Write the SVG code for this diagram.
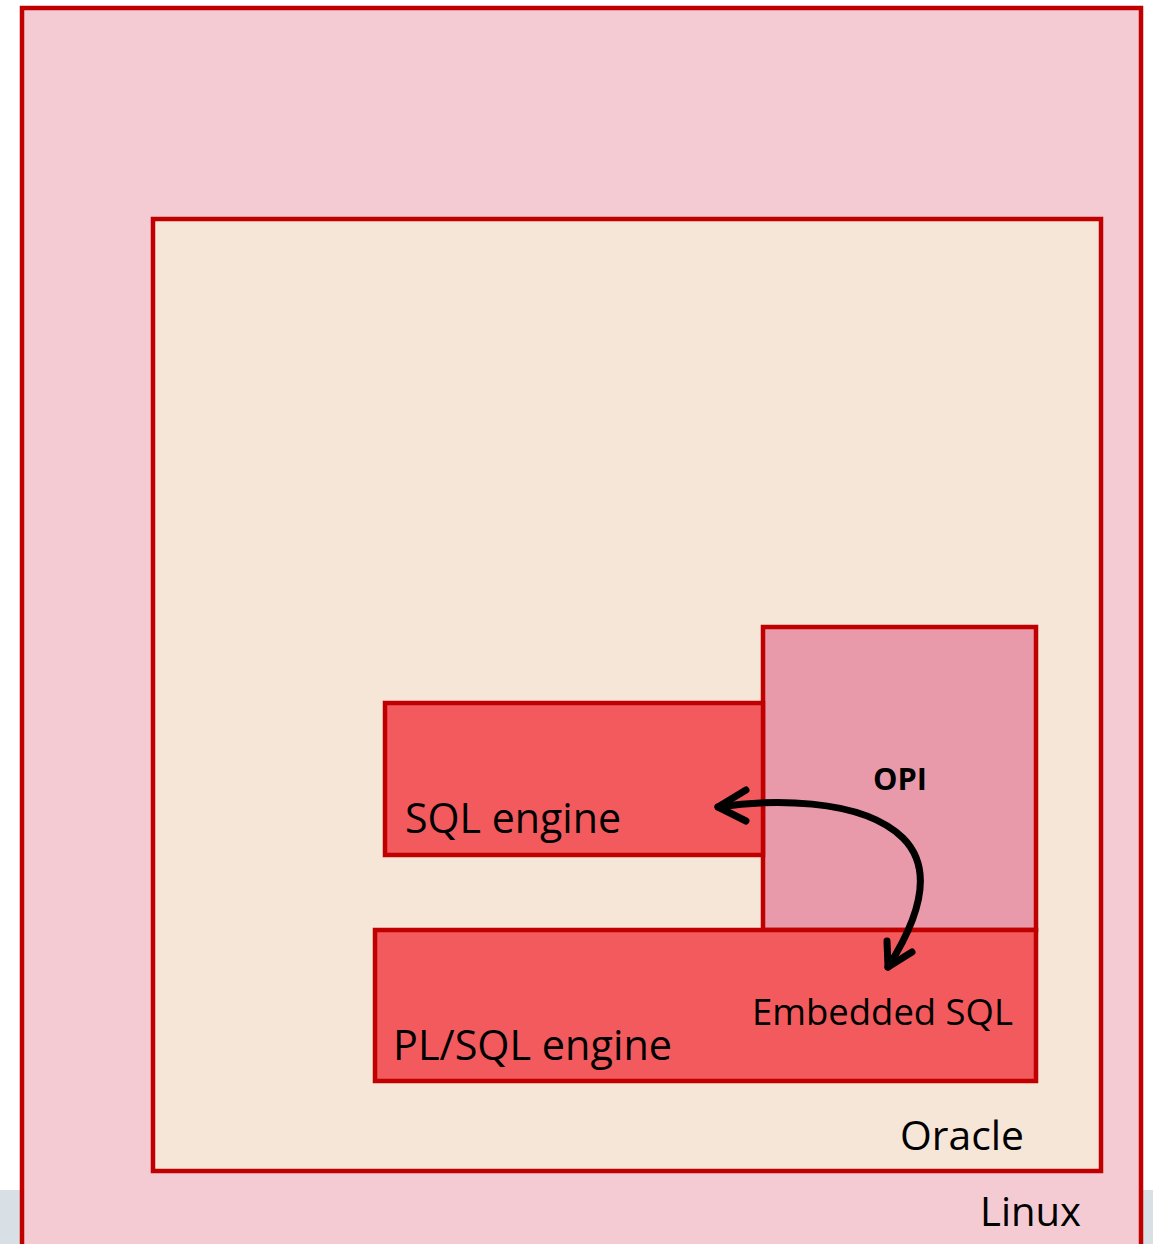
<svg xmlns="http://www.w3.org/2000/svg" width="1153" height="1244" viewBox="0 0 1153 1244">
<style>
.box{stroke:#c00000;stroke-width:4.5;stroke-linejoin:miter}
.lbl{font-family:"Open Sans","Liberation Sans",sans-serif;fill:#000}
.arr{fill:none;stroke:#000;stroke-width:7;stroke-linecap:round;stroke-linejoin:round}
</style>
<rect x="0" y="0" width="1153" height="1244" fill="#ffffff"/>
<rect x="0" y="1190" width="1153" height="54" fill="#d9e0e5"/>
<g id="linux">
<rect class="box" x="22" y="8" width="1119" height="1250" fill="#f4cbd3"/>
<text class="lbl" x="980" y="1226" font-size="41" textLength="101" lengthAdjust="spacingAndGlyphs">Linux</text>
</g>
<g id="oracle">
<rect class="box" x="153" y="219" width="948" height="952" fill="#f6e6d8"/>
<text class="lbl" x="900" y="1150" font-size="41" textLength="124" lengthAdjust="spacingAndGlyphs">Oracle</text>
</g>
<g id="opi">
<rect class="box" x="763" y="627" width="273" height="303" fill="#e89aab"/>
<text class="lbl" x="873" y="790" font-size="30" font-weight="bold" textLength="54" lengthAdjust="spacingAndGlyphs">OPI</text>
</g>
<g id="sql-engine">
<rect class="box" x="385" y="703" width="378" height="152" fill="#f25a5e"/>
<text class="lbl" x="405" y="833" font-size="42" textLength="216" lengthAdjust="spacingAndGlyphs">SQL engine</text>
</g>
<g id="plsql-engine">
<rect class="box" x="375" y="930" width="661" height="151" fill="#f25a5e"/>
<text class="lbl" x="393" y="1060" font-size="42" textLength="279" lengthAdjust="spacingAndGlyphs">PL/SQL engine</text>
<text class="lbl" x="752" y="1025" font-size="37" textLength="261" lengthAdjust="spacingAndGlyphs">Embedded SQL</text>
</g>
<g id="connectors">
<path class="arr" d="M718,807 C765,800 860,796 903,838 C935,870 918,920 888,967"/>
<path class="arr" d="M746,790 L718,807 L746,821"/>
<path class="arr" d="M887,941 L888,967 L912,952"/>
</g>
</svg>
